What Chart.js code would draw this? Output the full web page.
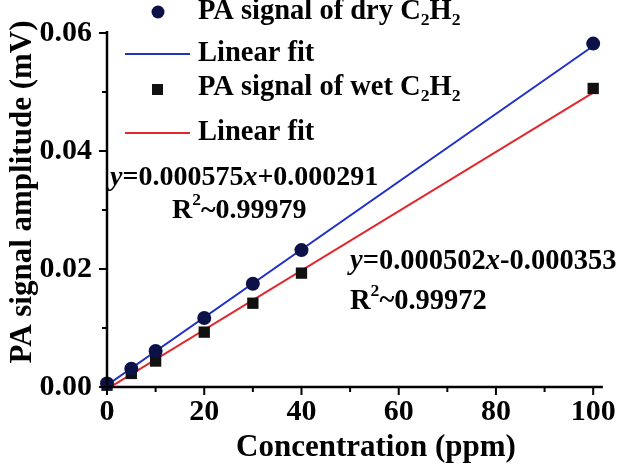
<!DOCTYPE html>
<html>
<head>
<meta charset="utf-8">
<script src="https://cdn.jsdelivr.net/npm/chart.js@4.4.1/dist/chart.umd.min.js"></script>
<style>
  html, body { margin: 0; padding: 0; background: #fff; }
</style>
</head>
<body>
<canvas id="grafico" width="623" height="472"></canvas>
<script>
// dados
const concX = [0, 5, 10, 20, 30, 40, 100];
const dryY = [0.0006, 0.0031, 0.0061, 0.0117, 0.0175, 0.0232, 0.0582];
const wetY = [0.0003, 0.0023, 0.0044, 0.0093, 0.0142, 0.0193, 0.0506];
const fitX = [0, 100];
const dryFit = [0.0003, 0.0578];
const wetFit = [-0.00035, 0.0499];
const xTicks = [0, 10, 20, 30, 40, 50, 60, 70, 80, 90, 100];
const yTicks = [0, 0.01, 0.02, 0.03, 0.04, 0.05, 0.06];

const SERIF = '"Liberation Serif", "Times New Roman", serif';
const AZUL = '#2030c8';
const VERMELHO = '#e0282e';
const PONTO = '#0c1248';

const pares = (xs, ys) => xs.map((x, i) => ({ x, y: ys[i] }));

// texto com sub/sobrescrito e itálico
function textoRico(ctx, partes, x, y, tam) {
  let cx = x;
  ctx.textBaseline = 'middle';
  ctx.textAlign = 'left';
  partes.forEach(p => {
    const s = (p.sub || p.sup) ? tam * 0.62 : tam;
    ctx.font = (p.it ? 'italic ' : '') + 'bold ' + s + 'px ' + SERIF;
    const dy = p.sub ? tam * 0.3 : p.sup ? -tam * 0.36 : 0;
    ctx.fillText(p.t, cx, y + dy);
    cx += ctx.measureText(p.t).width;
  });
}

const extras = {
  id: 'extras',
  afterDraw(chart) {
    const { ctx } = chart;
    const xs = chart.scales.x, ys = chart.scales.y;
    const x0 = xs.left, y0 = ys.bottom;
    ctx.save();
    ctx.strokeStyle = '#000';
    ctx.fillStyle = '#000';
    ctx.lineWidth = 2.5;
    // eixos
    ctx.beginPath();
    ctx.moveTo(x0, ys.top - 2);
    ctx.lineTo(x0, y0);
    ctx.lineTo(xs.right, y0);
    ctx.stroke();
    ctx.lineWidth = 2;
    xTicks.forEach(v => {
      const px = xs.getPixelForValue(v);
      const len = v % 20 === 0 ? 8 : 5;
      ctx.beginPath(); ctx.moveTo(px, y0); ctx.lineTo(px, y0 + len); ctx.stroke();
    });
    yTicks.forEach((v, i) => {
      const py = ys.getPixelForValue(v);
      const len = i % 2 === 0 ? 8 : 5;
      ctx.beginPath(); ctx.moveTo(x0, py); ctx.lineTo(x0 - len, py); ctx.stroke();
    });

    // títulos dos eixos
    ctx.font = 'bold 31px ' + SERIF;
    ctx.textAlign = 'center';
    ctx.textBaseline = 'middle';
    ctx.fillText('Concentration (ppm)', 376, 448);
    ctx.save();
    ctx.translate(23, 192);
    ctx.rotate(-Math.PI / 2);
    ctx.fillText('PA signal amplitude (mV)', 0, 0);
    ctx.restore();

    // legenda
    ctx.fillStyle = PONTO;
    ctx.beginPath(); ctx.arc(158, 12, 6.5, 0, Math.PI * 2); ctx.fill();
    ctx.fillStyle = '#111';
    ctx.fillRect(152, 84, 11, 11);
    ctx.lineWidth = 2;
    ctx.strokeStyle = AZUL;
    ctx.beginPath(); ctx.moveTo(125, 54); ctx.lineTo(190, 54); ctx.stroke();
    ctx.strokeStyle = VERMELHO;
    ctx.beginPath(); ctx.moveTo(125, 133); ctx.lineTo(190, 133); ctx.stroke();
    ctx.fillStyle = '#000';
    textoRico(ctx, [{ t: 'PA signal of dry C' }, { t: '2', sub: 1 }, { t: 'H' }, { t: '2', sub: 1 }], 198, 12, 28.5);
    textoRico(ctx, [{ t: 'Linear fit' }], 198, 54, 28.5);
    textoRico(ctx, [{ t: 'PA signal of wet C' }, { t: '2', sub: 1 }, { t: 'H' }, { t: '2', sub: 1 }], 198, 88, 28.5);
    textoRico(ctx, [{ t: 'Linear fit' }], 198, 133, 28.5);

    // equações
    textoRico(ctx, [{ t: 'y', it: 1 }, { t: '=0.000575' }, { t: 'x', it: 1 }, { t: '+0.000291' }], 110, 178, 28);
    textoRico(ctx, [{ t: 'R' }, { t: '2', sup: 1 }, { t: '~0.99979' }], 172, 211, 28);
    textoRico(ctx, [{ t: 'y', it: 1 }, { t: '=0.000502' }, { t: 'x', it: 1 }, { t: '-0.000353' }], 350, 262, 28.5);
    textoRico(ctx, [{ t: 'R' }, { t: '2', sup: 1 }, { t: '~0.99972' }], 350, 302, 28.5);
    ctx.restore();
  }
};

const ctx = document.getElementById('grafico').getContext('2d');
const chart = new Chart(ctx, {
  type: 'scatter',
  data: {
    datasets: [
      {
        label: 'PA signal of dry C2H2',
        data: pares(concX, dryY),
        pointStyle: 'circle',
        pointRadius: 7,
        backgroundColor: PONTO,
        borderColor: PONTO,
        borderWidth: 0,
        clip: false
      },
      {
        label: 'PA signal of wet C2H2',
        data: pares(concX, wetY),
        pointStyle: 'rect',
        pointRadius: 8,
        backgroundColor: '#111',
        borderColor: '#111',
        borderWidth: 0,
        clip: false
      },
      {
        label: 'Linear fit',
        data: pares(fitX, dryFit),
        showLine: true,
        pointRadius: 0,
        borderColor: AZUL,
        borderWidth: 2
      },
      {
        label: 'Linear fit',
        data: pares(fitX, wetFit),
        showLine: true,
        pointRadius: 0,
        borderColor: VERMELHO,
        borderWidth: 2
      }
    ]
  },
  options: {
    responsive: false,
    animation: false,
    layout: { padding: { top: 22, right: 16, left: 0, bottom: 0 } },
    plugins: {
      legend: { display: false },
      tooltip: { enabled: false }
    },
    scales: {
      x: {
        type: 'linear',
        min: 0,
        max: 102,
        grid: { display: false, drawTicks: false },
        border: { display: false },
        afterBuildTicks: s => { s.ticks = xTicks.map(v => ({ value: v })); },
        afterFit: s => { s.height = 85; },
        ticks: {
          color: '#000',
          padding: 7,
          maxRotation: 0,
          autoSkip: false,
          font: { family: SERIF, size: 30, weight: 'bold' },
          callback: v => (v % 20 === 0 ? String(v) : '')
        }
      },
      y: {
        type: 'linear',
        min: 0,
        max: 0.06,
        grid: { display: false, drawTicks: false },
        border: { display: false },
        afterBuildTicks: s => { s.ticks = yTicks.map(v => ({ value: v })); },
        afterFit: s => { s.width = 107; },
        ticks: {
          color: '#000',
          padding: 15,
          autoSkip: false,
          font: { family: SERIF, size: 30, weight: 'bold' },
          callback: (v, i) => (i % 2 === 0 ? v.toFixed(2) : '')
        }
      }
    }
  },
  plugins: [extras]
});
</script>
</body>
</html>
